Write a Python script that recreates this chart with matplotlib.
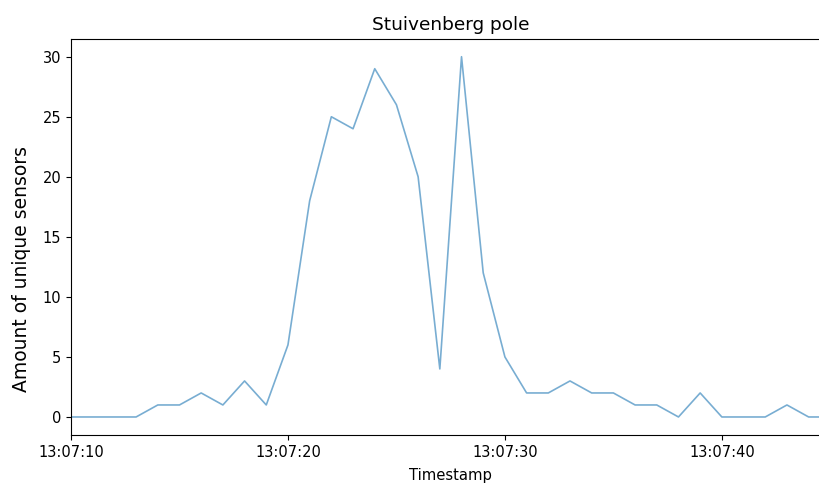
import numpy as np
import pandas as pd
import matplotlib
matplotlib.use("Agg")
import matplotlib.pyplot as plt
import matplotlib.dates as mdates

# Unique sensors seen per second at the pole
timestamps = pd.date_range("2023-01-01 13:07:10", "2023-01-01 13:07:45", freq="s")
counts = [0, 0, 0, 0, 1, 1, 2, 1, 3, 1,
          6, 18, 25, 24, 29, 26, 20, 4, 30, 12,
          5, 2, 2, 3, 2, 2, 1, 1, 0, 2,
          0, 0, 0, 1, 0, 0]

fig = plt.figure(figsize=(8.2, 4.83), dpi=100)
# the original figure was cropped on the right, so the axes run past the edge
ax = fig.add_axes([0.0866, 0.0994, 0.926, 0.8205])
ax.plot(timestamps, counts, color="#1f77b4", alpha=0.6, lw=1.2)

ax.set_xlim(timestamps[0], timestamps[-1])
ax.set_yticks(np.arange(0, 31, 5))
ax.xaxis.set_major_locator(mdates.SecondLocator(bysecond=range(0, 60, 10)))
ax.xaxis.set_major_formatter(mdates.DateFormatter("%H:%M:%S"))
ax.tick_params(labelsize=10.5)

ax.set_title("Stuivenberg pole", fontsize=13.3)
ax.set_xlabel("Timestamp", fontsize=10.6, labelpad=6)
ax.set_ylabel("Amount of unique sensors", fontsize=13.5)
ax.yaxis.set_label_coords(-0.053, 0.42)

fig.savefig("out.png", dpi=100)
